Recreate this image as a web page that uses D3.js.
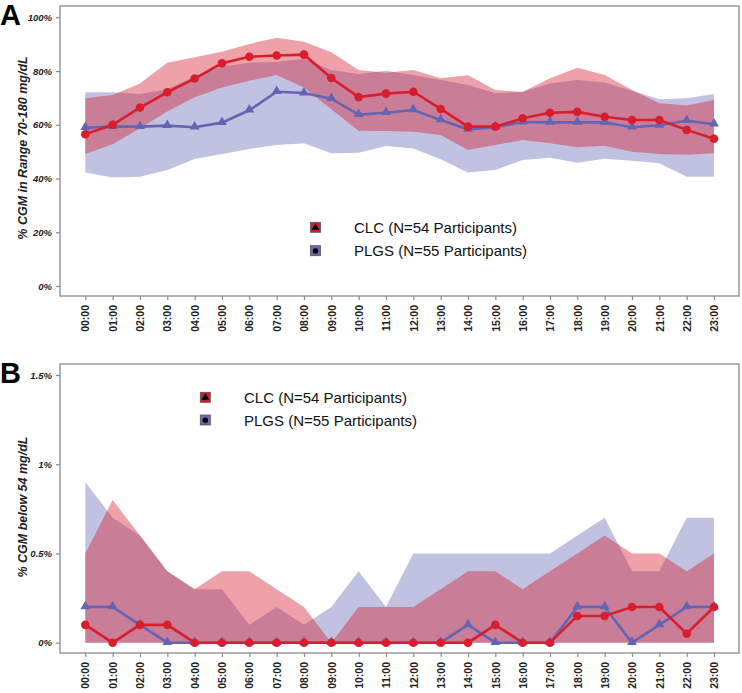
<!DOCTYPE html>
<html><head><meta charset="utf-8">
<script src="https://cdn.jsdelivr.net/npm/d3@7/dist/d3.min.js"></script>
<style>body{margin:0;background:#fff}svg{display:block}</style>
</head><body>
<script>
const hours = ["00:00","01:00","02:00","03:00","04:00","05:00","06:00","07:00","08:00","09:00","10:00","11:00","12:00","13:00","14:00","15:00","16:00","17:00","18:00","19:00","20:00","21:00","22:00","23:00"];

// Panel A: % CGM in range 70-180 mg/dL
const clcTIR      = [56.5,60.0,66.4,72.1,77.2,82.9,85.3,85.8,86.1,77.4,70.3,71.6,72.3,65.9,59.3,59.3,62.4,64.5,64.8,63.0,61.8,61.8,58.1,54.8];
const clcTIRUpper = [69.9,71.1,75.4,83.1,85.1,87.2,90.1,92.4,90.9,87.0,80.4,79.4,80.4,77.3,78.4,72.9,72.2,77.3,81.2,78.5,72.9,68.0,67.2,69.2];
const clcTIRLower = [49.1,52.8,58.7,64.9,70.2,73.9,76.4,78.5,73.9,65.8,57.8,57.7,57.4,56.2,50.6,52.5,54.3,53.1,51.6,52.2,50.0,49.1,48.8,49.4];
const plgsTIR      = [58.9,59.3,59.3,59.7,59.1,60.8,65.4,72.3,71.8,69.7,63.8,64.5,65.5,61.8,58.3,59.1,61.0,60.9,60.9,60.9,59.1,59.8,61.5,60.2];
const plgsTIRUpper = [72.1,72.1,71.5,73.2,78.0,81.6,83.1,83.4,84.6,80.4,78.9,80.1,78.5,76.7,74.8,71.7,72.3,75.4,76.7,75.7,72.7,69.5,69.9,71.5];
const plgsTIRLower = [42.2,40.4,40.7,43.2,47.3,49.1,51.0,52.5,53.1,49.4,49.6,52.1,51.2,47.2,42.2,43.2,46.9,47.7,45.9,47.4,46.6,45.7,40.7,40.7];
const ticksA = [0,20,40,60,80,100];

// Panel B: % CGM below 54 mg/dL
const clcLow      = [0.1,0,0.1,0.1,0,0,0,0,0,0,0,0,0,0,0,0.1,0,0,0.15,0.15,0.2,0.2,0.05,0.2];
const clcLowUpper = [0.5,0.8,0.6,0.4,0.3,0.4,0.4,0.3,0.2,0,0.2,0.2,0.2,0.3,0.4,0.4,0.3,0.4,0.5,0.6,0.5,0.5,0.4,0.5];
const clcLowLower = [0,0,0,0,0,0,0,0,0,0,0,0,0,0,0,0,0,0,0,0,0,0,0,0];
const plgsLow      = [0.2,0.2,0.1,0,0,0,0,0,0,0,0,0,0,0,0.1,0,0,0,0.2,0.2,0,0.1,0.2,0.2];
const plgsLowUpper = [0.9,0.7,0.6,0.4,0.3,0.3,0.1,0.2,0.1,0.2,0.4,0.2,0.5,0.5,0.5,0.5,0.5,0.5,0.6,0.7,0.4,0.4,0.7,0.7];
const plgsLowLower = [0,0,0,0,0,0,0,0,0,0,0,0,0,0,0,0,0,0,0,0,0,0,0,0];
const ticksB = [0,0.5,1,1.5];
const tickLabelsB = ["0%","0.5%","1%","1.5%"];

const legendLabels = ["CLC (N=54 Participants)","PLGS (N=55 Participants)"];

const RED = "#d81e2c", BLUE = "#6464b4";
const RED_FILL = "rgba(215,30,50,0.42)", BLUE_FILL = "rgba(100,100,180,0.40)";
const FONT = "'Liberation Sans', Arial, sans-serif";

const svg = d3.select("body").append("svg").attr("width",742).attr("height",693)
  .style("font-family", FONT);

const x = d3.scaleLinear().domain([0,23]).range([85.3,714]);

function panel(cfg){
  const g = svg.append("g");
  const y = d3.scaleLinear().domain(cfg.domain).range(cfg.range);
  // frame
  g.append("rect").attr("x",60).attr("y",cfg.top).attr("width",679).attr("height",cfg.bottom-cfg.top)
    .attr("fill","none").attr("stroke","#8a8a8a").attr("stroke-width",1.3);
  // y axis
  const ya = g.append("g").attr("transform","translate(60,0)")
    .call(d3.axisLeft(y).tickValues(cfg.ticks).tickSize(4).tickPadding(4).tickFormat((d,i)=>cfg.tickLabels[i]));
  ya.select(".domain").remove();
  ya.selectAll(".tick line").attr("stroke","#8a8a8a").attr("stroke-width",1.2);
  ya.selectAll(".tick text").attr("font-family",FONT).attr("font-size",9.5).attr("font-weight","bold")
    .attr("font-style","italic").attr("fill","#222");
  // x axis
  const xa = g.append("g").attr("transform",`translate(0,${cfg.bottom})`)
    .call(d3.axisBottom(x).tickValues(d3.range(24)).tickSize(4).tickFormat(i=>hours[i]));
  xa.select(".domain").remove();
  xa.selectAll(".tick line").attr("stroke","#8a8a8a").attr("stroke-width",1.2);
  xa.selectAll(".tick text").attr("font-family",FONT).attr("font-size",10.5).attr("font-weight","bold")
    .attr("fill","#222").attr("transform","rotate(-90)").attr("text-anchor","end")
    .attr("x",-9).attr("y",0).attr("dy","0.35em");
  // y label
  g.append("text").attr("transform",`translate(27,${cfg.labelY}) rotate(-90)`).attr("text-anchor","middle")
    .attr("font-size",12.5).attr("font-weight","bold").attr("font-style","italic").attr("fill","#222")
    .text(cfg.yLabel);
  // panel letter
  g.append("text").attr("x",0).attr("y",cfg.letterY).attr("font-size",29).attr("font-weight","bold")
    .attr("fill","#000").text(cfg.letter);
  // bands
  const area = (lo,hi)=>d3.area().x((d,i)=>x(i)).y0((d,i)=>y(lo[i])).y1((d,i)=>y(hi[i]));
  g.append("path").datum(hours).attr("d",area(cfg.plgsLo,cfg.plgsHi)).attr("fill",BLUE_FILL);
  g.append("path").datum(hours).attr("d",area(cfg.clcLo,cfg.clcHi)).attr("fill",RED_FILL);
  // lines
  const line = d3.line().x((d,i)=>x(i)).y(d=>y(d));
  g.append("path").datum(cfg.plgs).attr("d",line).attr("fill","none").attr("stroke",BLUE).attr("stroke-width",2.6);
  g.selectAll(".tri").data(cfg.plgs).enter().append("path")
    .attr("d",d3.symbol().type(d3.symbolTriangle).size(42))
    .attr("transform",(d,i)=>`translate(${x(i)},${y(d)-0.5})`).attr("fill",BLUE);
  g.append("path").datum(cfg.clc).attr("d",line).attr("fill","none").attr("stroke",RED).attr("stroke-width",2.6);
  g.selectAll(".dot").data(cfg.clc).enter().append("circle")
    .attr("cx",(d,i)=>x(i)).attr("cy",d=>y(d)).attr("r",4.3).attr("fill",RED);
  // legend
  const lg = g.append("g");
  const items = [{fill:"#d0202e", sym:d3.symbolTriangle, ss:26},{fill:"#6a6ab4", sym:d3.symbolCircle, ss:24}];
  items.forEach((it,k)=>{
    const sy = cfg.legY + k*cfg.legGap;
    lg.append("rect").attr("x",cfg.legX).attr("y",sy).attr("width",10).attr("height",10)
      .attr("fill",it.fill).attr("stroke","#555").attr("stroke-width",0.8);
    lg.append("path").attr("d",d3.symbol().type(it.sym).size(it.ss))
      .attr("transform",`translate(${cfg.legX+5},${sy+5.3})`).attr("fill","#000");
    lg.append("text").attr("x",cfg.legTextX).attr("y",sy+10.6).attr("font-size",15).attr("fill","#111")
      .text(legendLabels[k]);
  });
}

panel({top:6,bottom:296,domain:[0,100],range:[286,17.3],ticks:ticksA,tickLabels:ticksA.map(d=>d+"%"),
  yLabel:"% CGM in Range 70-180 mg/dL",labelY:148,letter:"A",letterY:25,
  clc:clcTIR,clcHi:clcTIRUpper,clcLo:clcTIRLower,plgs:plgsTIR,plgsHi:plgsTIRUpper,plgsLo:plgsTIRLower,
  legX:310.5,legY:222.3,legGap:23.4,legTextX:354});

panel({top:364,bottom:653,domain:[0,1.5],range:[642.7,375],ticks:ticksB,tickLabels:tickLabelsB,
  yLabel:"% CGM below 54 mg/dL",labelY:507,letter:"B",letterY:383,
  clc:clcLow,clcHi:clcLowUpper,clcLo:clcLowLower,plgs:plgsLow,plgsHi:plgsLowUpper,plgsLo:plgsLowLower,
  legX:200.3,legY:392.3,legGap:22.7,legTextX:244});
</script>
</body></html>
